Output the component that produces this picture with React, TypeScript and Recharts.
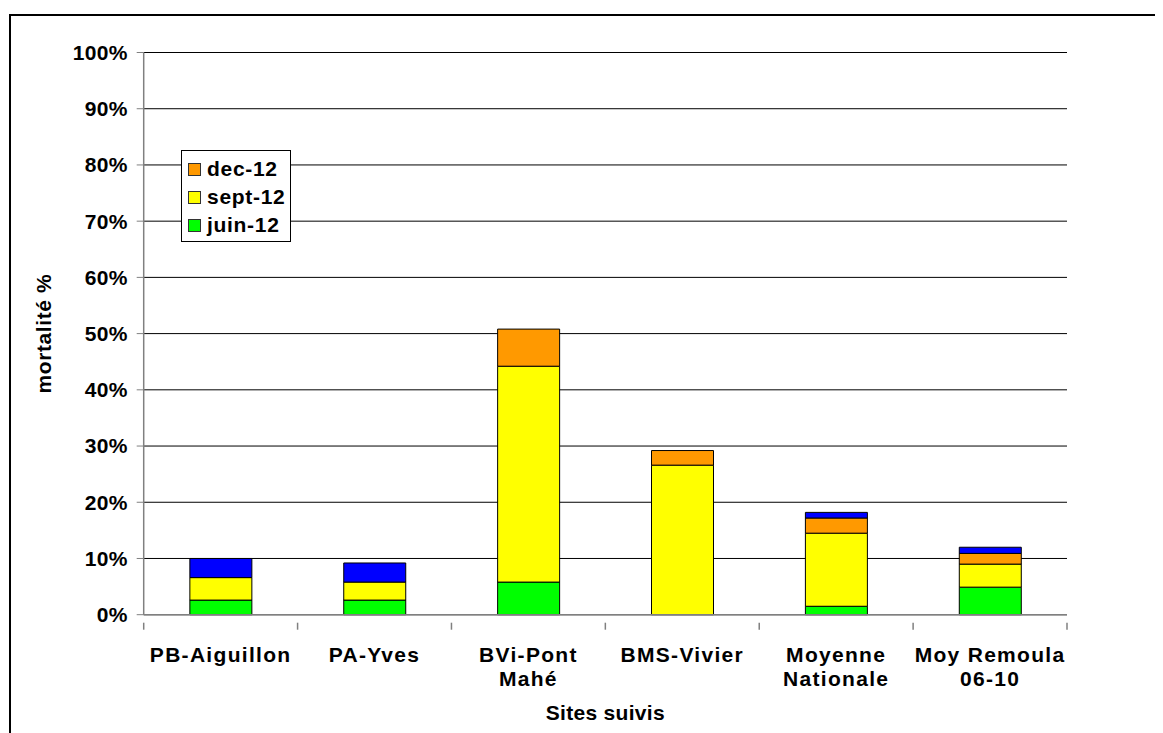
import React from "react";
import {
  ComposedChart,
  Bar,
  XAxis,
  YAxis,
  CartesianGrid,
} from "recharts";

// Mortality by monitored site, stacked by sampling campaign (%)
const categories = [
  "PB-Aiguillon",
  "PA-Yves",
  "BVi-Pont\nMahé",
  "BMS-Vivier",
  "Moyenne\nNationale",
  "Moy Remoula\n06-10",
];
const juin12 = [2.6, 2.6, 5.8, 0, 1.5, 4.9];
const sept12 = [4.0, 3.2, 38.4, 26.6, 13.0, 4.1];
const dec12 = [0, 0, 6.6, 2.6, 2.7, 1.9];
const autre = [3.4, 3.4, 0, 0, 1.0, 1.1];
const yTicks = [0, 10, 20, 30, 40, 50, 60, 70, 80, 90, 100];

const legendItems = [
  { label: "dec-12", color: "#FF9900" },
  { label: "sept-12", color: "#FFFF00" },
  { label: "juin-12", color: "#00FF00" },
];

const data = categories.map((name, i) => ({
  name,
  juin12: juin12[i],
  sept12: sept12[i],
  dec12: dec12[i],
  autre: autre[i],
}));

const FONT = '"Liberation Sans", Arial, Helvetica, sans-serif';
const AXIS_GRAY = "#808080";

function CategoryTick(props: any) {
  const { x, y, payload, index } = props;
  const lines = String(payload.value).split("\n");
  const half = payload.offset ?? 0;
  return (
    <g>
      <line x1={x - half} y1={y} x2={x - half} y2={y + 7} stroke={AXIS_GRAY} strokeWidth={1.5} />
      {index === categories.length - 1 && (
        <line x1={x + half} y1={y} x2={x + half} y2={y + 7} stroke={AXIS_GRAY} strokeWidth={1.5} />
      )}
      <text
        x={x}
        y={y + 32}
        textAnchor="middle"
        fontFamily={FONT}
        fontWeight="bold"
        fontSize={21}
        letterSpacing={1.3}
        fill="#000"
      >
        {lines.map((ln, k) => (
          <tspan key={k} x={x} dy={k === 0 ? "0.35em" : 24}>
            {ln}
          </tspan>
        ))}
      </text>
    </g>
  );
}

function LegendBox() {
  return (
    <div
      style={{
        position: "absolute",
        left: 173,
        top: 142,
        width: 110,
        height: 92,
        boxSizing: "border-box",
        border: "1px solid #000",
        background: "#fff",
        padding: "4px 0 0 6px",
        fontFamily: FONT,
        fontWeight: "bold",
        fontSize: 21,
        letterSpacing: 0.7,
        color: "#000",
      }}
    >
      {legendItems.map((it) => (
        <div key={it.label} style={{ display: "flex", alignItems: "center", height: 28 }}>
          <span
            style={{
              display: "inline-block",
              width: 13,
              height: 13,
              boxSizing: "border-box",
              border: "1px solid #333",
              background: it.color,
              marginRight: 6,
            }}
          />
          <span style={{ lineHeight: "28px" }}>{it.label}</span>
        </div>
      ))}
    </div>
  );
}

export default function App() {
  return (
    <div style={{ position: "relative", width: 1155, height: 725, fontFamily: FONT }}>
      <div
        style={{
          position: "absolute",
          left: 1,
          top: 6,
          width: 1154,
          height: 719,
          borderLeft: "2px solid #000",
          borderTop: "2px solid #000",
          boxSizing: "border-box",
        }}
      />
      <ComposedChart
        width={1155}
        height={725}
        data={data}
        margin={{ top: 44.5, right: 96, bottom: 0, left: 0 }}
        barCategoryGap="30%"
        style={{ position: "absolute", left: 0, top: 0 }}
      >
        <CartesianGrid vertical={false} stroke="#000" strokeWidth={1} />
        <XAxis
          dataKey="name"
          height={118.3}
          axisLine={{ stroke: AXIS_GRAY, strokeWidth: 1.5 }}
          tickLine={false}
          interval={0}
          tick={<CategoryTick />}
          label={(p: any) => {
            const vb = p.viewBox;
            return (
              <text
                x={vb.x + vb.width / 2}
                y={vb.y + 98}
                textAnchor="middle"
                dominantBaseline="central"
                fontFamily={FONT}
                fontWeight="bold"
                fontSize={21}
                letterSpacing={0.3}
                fill="#000"
              >
                Sites suivis
              </text>
            );
          }}
        />
        <YAxis
          width={135.7}
          domain={[0, 100]}
          ticks={yTicks}
          interval={0}
          tickFormatter={(v: number) => `${v}%`}
          axisLine={{ stroke: AXIS_GRAY, strokeWidth: 1.5 }}
          tickLine={{ stroke: AXIS_GRAY, strokeWidth: 1 }}
          tickSize={7}
          tickMargin={9}
          tick={{ fill: "#000", fontFamily: FONT, fontWeight: "bold", fontSize: 21, letterSpacing: 0.3 }}
          label={(p: any) => {
            const vb = p.viewBox;
            const cx = vb.x + 36;
            const cy = vb.y + vb.height / 2;
            return (
              <text
                x={cx}
                y={cy}
                textAnchor="middle"
                dominantBaseline="central"
                transform={`rotate(-90, ${cx}, ${cy})`}
                fontFamily={FONT}
                fontWeight="bold"
                fontSize={21}
                letterSpacing={0.6}
                fill="#000"
              >
                mortalité %
              </text>
            );
          }}
        />
        <Bar dataKey="juin12" name="juin-12" stackId="s" fill="#00FF00" stroke="#000" strokeWidth={1} isAnimationActive={false} />
        <Bar dataKey="sept12" name="sept-12" stackId="s" fill="#FFFF00" stroke="#000" strokeWidth={1} isAnimationActive={false} />
        <Bar dataKey="dec12" name="dec-12" stackId="s" fill="#FF9900" stroke="#000" strokeWidth={1} isAnimationActive={false} />
        <Bar dataKey="autre" name="autre" stackId="s" fill="#0000FF" stroke="#000" strokeWidth={1} isAnimationActive={false} />
      </ComposedChart>
      <LegendBox />
    </div>
  );
}
